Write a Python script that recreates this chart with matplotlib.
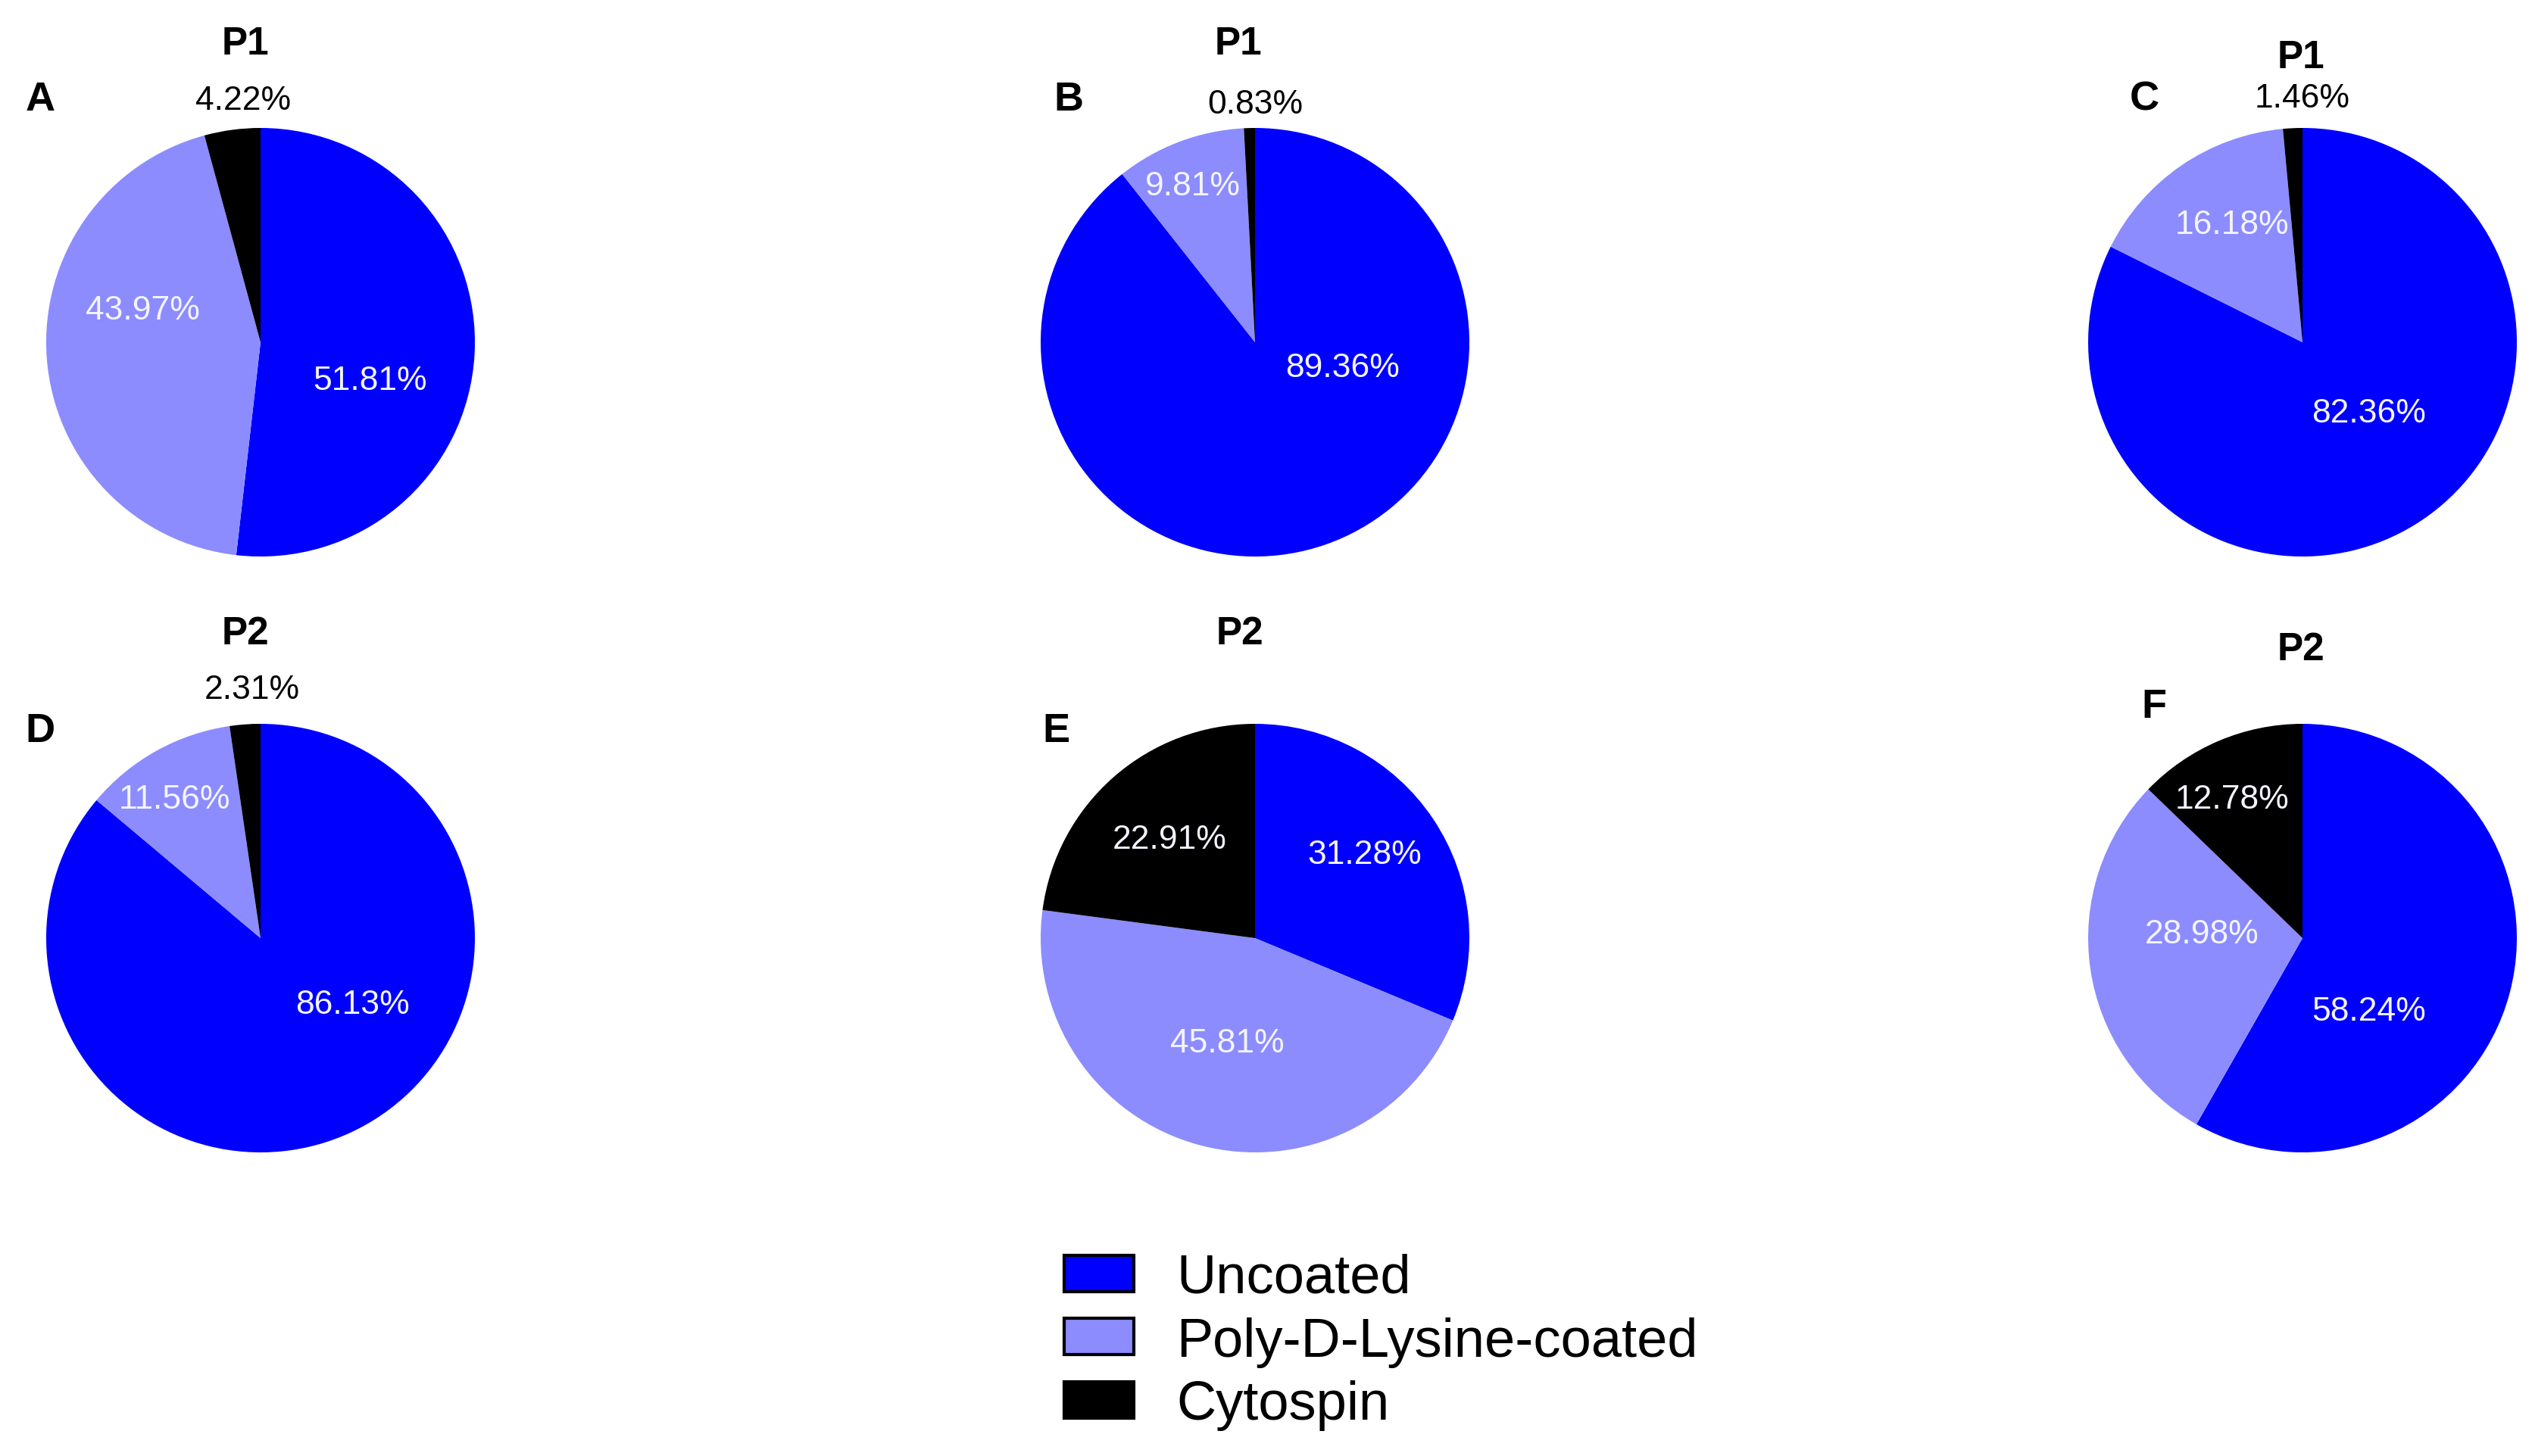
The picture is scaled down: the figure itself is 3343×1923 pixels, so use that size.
import matplotlib
matplotlib.use('Agg')
import matplotlib.pyplot as plt
from matplotlib.patches import Patch

plt.rcParams['font.family'] = ['Liberation Sans', 'DejaVu Sans']

# data
groups = ['Uncoated', 'Poly-D-Lysine-coated', 'Cytospin']
panels = ['A', 'B', 'C', 'D', 'E', 'F']
titles = ['P1', 'P1', 'P1', 'P2', 'P2', 'P2']
uncoated = [51.81, 89.36, 82.36, 86.13, 31.28, 58.24]
pdl = [43.97, 9.81, 16.18, 11.56, 45.81, 28.98]
cytospin = [4.22, 0.83, 1.46, 2.31, 22.91, 12.78]

colors = ['#0000ff', '#8c8cff', '#000000']

# layout (pixels in the 3343x1924 canvas)
W, H = 3343, 1924
R = 283
centers = [(344, 453), (1657, 453), (3040, 453),
           (344, 1240), (1657, 1240), (3040, 1240)]
title_pos = [(324, 58), (1635, 58), (3038, 77),
             (324, 838), (1637, 838), (3038, 859)]
letter_pos = [(53, 132), (1411, 132), (2831, 132),
              (53, 966), (1394, 966), (2844, 934)]
# label offsets in pie-radius units (uncoated, pdl, cytospin)
label_off = [
    [(0.51, -0.18), (-0.55, 0.15), (-0.08, 1.13)],
    [(0.41, -0.12), (-0.29, 0.73), (0.0, 1.11)],
    [(0.31, -0.33), (-0.33, 0.55), (0.0, 1.14)],
    [(0.43, -0.31), (-0.40, 0.65), (-0.04, 1.16)],
    [(0.51, 0.39), (-0.13, -0.49), (-0.40, 0.46)],
    [(0.31, -0.34), (-0.47, 0.02), (-0.33, 0.65)],
]

fig = plt.figure(figsize=(W / 100, H / 100), dpi=100)

for i in range(len(panels)):
    cx, cy = centers[i]
    ax = fig.add_axes([(cx - R) / W, 1 - (cy + R) / H, 2 * R / W, 2 * R / H])
    vals = [uncoated[i], pdl[i], cytospin[i]]
    wedges, _ = ax.pie(vals, colors=colors, startangle=90, counterclock=False,
                       radius=1, wedgeprops=dict(linewidth=0))
    for w in wedges:
        w.set_clip_on(False)
    ax.set_xlim(-1, 1)
    ax.set_ylim(-1, 1)
    ax.set_aspect('equal')
    ax.axis('off')
    for v, (dx, dy) in zip(vals, label_off[i]):
        outside = (dx ** 2 + dy ** 2) > 1
        ax.text(dx, dy, f'{v:.2f}%', ha='center', va='center', fontsize=32,
                color='black' if outside else '#f4f4ff')

    tx, ty = title_pos[i]
    fig.text(tx / W, 1 - ty / H, titles[i], ha='center', va='center',
             fontsize=37, fontweight='bold')
    lx, ly = letter_pos[i]
    fig.text(lx / W, 1 - ly / H, panels[i], ha='center', va='center',
             fontsize=39, fontweight='bold')

handles = [Patch(facecolor=c, edgecolor='black', linewidth=3) for c in colors]
fig.legend(handles, groups, loc='upper left',
           bbox_to_anchor=(1405 / W, 1 - 1656 / H),
           frameon=False, fontsize=52, borderpad=0, borderaxespad=0,
           handlelength=1.27, handleheight=0.65, handletextpad=0.78,
           labelspacing=0.23)

fig.savefig('out.png', dpi=100)
